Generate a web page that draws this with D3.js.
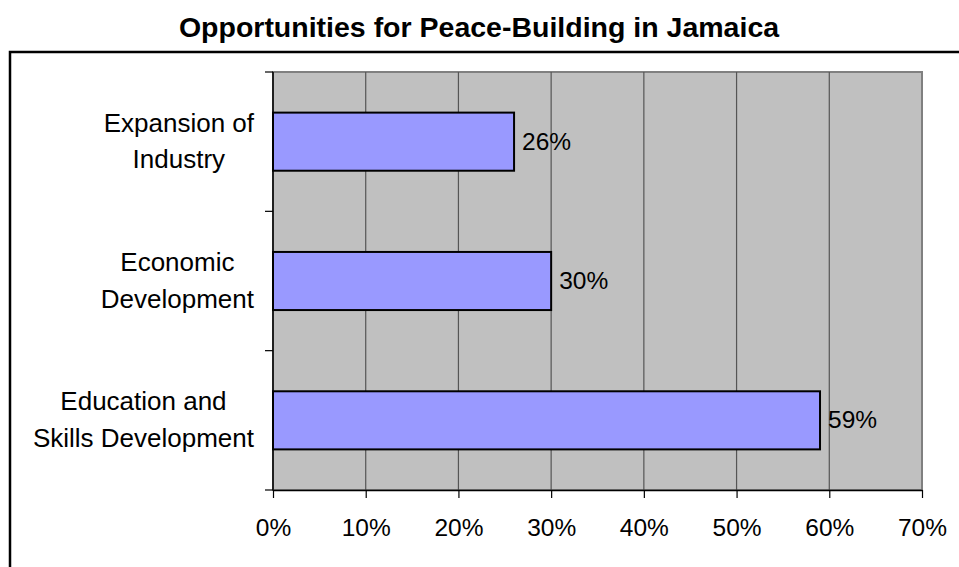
<!DOCTYPE html>
<html>
<head>
<meta charset="utf-8">
<script src="https://cdn.jsdelivr.net/npm/d3@7"></script>
<style>
  html, body { margin: 0; padding: 0; background: #fff; }
  svg { display: block; font-family: Arial, "Liberation Sans", sans-serif; }
</style>
</head>
<body>
<svg id="chart" width="959" height="567"></svg>
<script>
// Survey results: share of respondents naming each opportunity
const categories = [
  ["Expansion of", "Industry"],
  ["Economic", "Development"],
  ["Education and", "Skills Development"]
];
const values = [0.26, 0.30, 0.59];
const xTicks = [0, 0.1, 0.2, 0.3, 0.4, 0.5, 0.6, 0.7];
const titleText = "Opportunities for Peace-Building in Jamaica";

const svg = d3.select("#chart");
const plot = { left: 273, top: 72, right: 922, bottom: 490 };

// chart frame
svg.append("rect")
  .attr("x", 10).attr("y", 52)
  .attr("width", 970).attr("height", 540)
  .attr("fill", "#fff").attr("stroke", "#000").attr("stroke-width", 2.5);

// title
svg.append("text")
  .attr("x", 479).attr("y", 37)
  .attr("text-anchor", "middle")
  .attr("font-size", 28.5).attr("font-weight", "bold")
  .attr("fill", "#000")
  .text(titleText);

const x = d3.scaleLinear().domain([0, 0.7]).range([plot.left, plot.right]);
const keys = categories.map(c => c.join(" "));
const y = d3.scaleBand().domain(keys)
  .range([plot.top, plot.bottom])
  .paddingInner(0.583).paddingOuter(0.2915);
const step = y.step();

// plot background
svg.append("rect")
  .attr("x", plot.left).attr("y", plot.top)
  .attr("width", plot.right - plot.left).attr("height", plot.bottom - plot.top)
  .attr("fill", "#c0c0c0").attr("stroke", "#808080").attr("stroke-width", 2);

// vertical gridlines
svg.append("g").selectAll("line")
  .data(xTicks.slice(1, -1))
  .join("line")
  .attr("x1", d => x(d)).attr("x2", d => x(d))
  .attr("y1", plot.top).attr("y2", plot.bottom)
  .attr("stroke", "#555").attr("stroke-width", 1.2);

// x axis
const xAxis = d3.axisBottom(x)
  .tickValues(xTicks)
  .tickFormat(d3.format(".0%"))
  .tickSize(8).tickSizeOuter(0);
const gx = svg.append("g")
  .attr("transform", `translate(0,${plot.bottom})`)
  .call(xAxis);
gx.select(".domain").attr("stroke", "#000").attr("stroke-width", 1.5);
gx.selectAll(".tick line").attr("stroke", "#000").attr("stroke-width", 1.2);
gx.selectAll(".tick text")
  .attr("font-size", 24.5).attr("font-family", "Arial, 'Liberation Sans', sans-serif")
  .attr("fill", "#000").attr("dy", null).attr("y", 46);

// y axis: ticks at category boundaries
const yBounds = d3.range(categories.length + 1).map(i => plot.top + i * step);
svg.append("line")
  .attr("x1", plot.left).attr("x2", plot.left)
  .attr("y1", plot.top).attr("y2", plot.bottom)
  .attr("stroke", "#000").attr("stroke-width", 1.5);
svg.append("g").selectAll("line")
  .data(yBounds)
  .join("line")
  .attr("x1", plot.left - 8).attr("x2", plot.left)
  .attr("y1", d => d).attr("y2", d => d)
  .attr("stroke", "#000").attr("stroke-width", 1.2);

// bars
svg.append("g").selectAll("rect")
  .data(values)
  .join("rect")
  .attr("x", x(0))
  .attr("y", (d, i) => y(keys[i]))
  .attr("width", d => x(d) - x(0))
  .attr("height", y.bandwidth())
  .attr("fill", "#9999ff")
  .attr("stroke", "#000").attr("stroke-width", 2);

// value labels
svg.append("g").selectAll("text")
  .data(values)
  .join("text")
  .attr("x", d => x(d) + 8)
  .attr("y", (d, i) => y(keys[i]) + y.bandwidth() / 2 + 8)
  .attr("font-size", 24.5).attr("fill", "#000")
  .text(d => d3.format(".0%")(d));

// category labels: lines centred on each other, block right-aligned
const labelRight = 254;
categories.forEach((lines, i) => {
  const c = y(keys[i]) + y.bandwidth() / 2;
  const g = svg.append("g");
  const texts = lines.map((ln, j) => g.append("text")
    .attr("y", c - 10 + j * 36.7)
    .attr("font-size", 26).attr("fill", "#000")
    .attr("text-anchor", "middle")
    .text(ln));
  const maxW = d3.max(texts, t => t.node().getComputedTextLength());
  texts.forEach(t => t.attr("x", labelRight - maxW / 2));
});
</script>
</body>
</html>
